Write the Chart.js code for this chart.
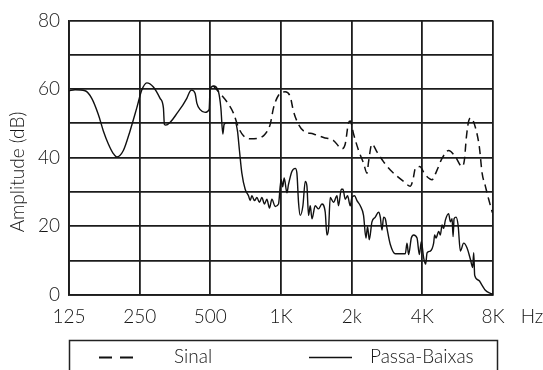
<!DOCTYPE html>
<html>
<head>
<meta charset="utf-8">
<script src="https://cdn.jsdelivr.net/npm/chart.js@4/dist/chart.umd.min.js"></script>
<style>
  html, body { margin: 0; padding: 0; background: #fff; }
  #wrap { width: 543px; height: 370px; }
</style>
</head>
<body>
<div id="wrap"><canvas id="c" width="543" height="370"></canvas></div>
<script>
// x values: octaves above 125 Hz (0 = 125 Hz, 6 = 8 kHz)
const xTickLabels = ['125', '250', '500', '1K', '2k', '4K', '8K'];
const yTickLabels = [0, 20, 40, 60, 80];
const xUnit = 'Hz';
const yTitle = 'Amplitude (dB)';
const seriesNames = ['Sinal', 'Passa-Baixas'];

const passaOct = [0,0.085,0.227,0.322,0.415,0.486,0.557,0.627,0.676,0.769,0.864,0.959,1.030,1.101,1.194,1.289,1.336,1.350,1.370,1.548,1.667,1.714,1.738,1.785,1.809,1.856,1.926,1.983,1.997,2.044,2.115,2.149,2.177,2.195,2.234,2.351,2.384,2.412,2.446,2.493,2.540,2.564,2.588,2.625,2.659,2.695,2.729,2.766,2.800,2.837,2.871,2.918,2.965,2.989,3.003,3.024,3.045,3.084,3.106,3.154,3.201,3.225,3.248,3.272,3.310,3.343,3.367,3.390,3.414,3.438,3.484,3.531,3.579,3.626,3.650,3.673,3.697,3.744,3.792,3.814,3.853,3.877,3.909,3.942,3.980,4.004,4.041,4.075,4.122,4.168,4.202,4.225,4.249,4.287,4.334,4.381,4.405,4.429,4.452,4.476,4.500,4.547,4.618,4.759,4.783,4.806,4.844,4.877,4.925,4.958,4.986,5.018,5.047,5.067,5.113,5.160,5.174,5.194,5.231,5.255,5.279,5.302,5.326,5.372,5.397,5.421,5.435,5.449,5.477,5.506,5.538,5.585,5.633,5.680,5.712,5.727,5.741,5.797,5.846,5.892,5.963,6.0];
const passaDb = [59.5,59.8,59.5,57.3,52.6,47.8,44,41.2,40.2,42.1,47.8,54.5,59.7,61.8,60.6,57.3,54.5,49.7,49.5,53.5,57.3,59.4,59.7,58.7,55.9,54,53.2,54,60,60.9,59.2,54.5,46.9,49.7,50.2,50.2,47.8,42.1,35.5,30.8,28.9,27.5,28.9,27.5,28.4,27,28.4,26.5,27.9,25.3,27.9,25.8,26.5,31.7,33.6,31.5,34.1,29.8,32.2,36,36.9,35.5,27,23.2,26,33.1,31.7,23.2,26,22.2,26,25.1,26.5,24.1,17.5,19.4,28.4,27,28.9,26,30.8,30.8,27.9,28.9,26,28.4,28.9,27.5,26,23.2,16.6,19.9,16.1,21.3,22.7,24.1,22.7,18.9,22.7,22.2,19.4,14.7,12,12,15.1,11.8,16.6,17.5,16.6,11.8,15.6,10.9,9.0,12.3,12.8,15.1,17.5,16.6,18.5,17.5,20.4,19.4,21.8,23.7,21.3,22.2,17,22.2,22.7,20.4,12.8,15.1,13.7,10.4,8.0,12.3,5.7,4.3,2.8,1.4,0.5,0.2];

const sinalOct = [2.044,2.139,2.234,2.327,2.398,2.469,2.564,2.681,2.776,2.847,2.894,2.965,3.059,3.130,3.177,3.248,3.319,3.460,3.602,3.744,3.862,3.909,3.956,3.980,4.027,4.098,4.168,4.217,4.239,4.287,4.358,4.452,4.547,4.642,4.735,4.830,4.868,4.901,4.962,5.042,5.137,5.208,5.279,5.372,5.467,5.562,5.595,5.623,5.656,5.690,5.751,5.807,5.846,5.892,5.939,5.991];
const sinalDb = [60.9,58.7,56.3,53,48.8,46.4,45.5,45.7,46.9,49.7,54.5,58.2,59.2,57.8,53.5,49.7,47.8,46.9,45.9,45,42.6,44,50.2,50.7,46.9,42.1,38.4,35.5,38.8,44,41.7,38.8,36.4,34.6,33.1,31.7,33.6,36.9,37.4,35,33.6,36.4,39.8,42.1,40.3,37.4,39.3,45.9,50.7,51.6,48.8,43.1,35.5,31.7,27.9,24];

const FONT = "Lato, 'Liberation Sans', sans-serif";
const FW = '300';
const FS = 19;
const TEXT = '#151515';
const GRID = '#1c1c1c';

const toPts = (xs, ys) => xs.map((x, i) => ({ x: x, y: ys[i] }));

const extras = {
  id: 'extras',
  afterDraw(chart) {
    const ctx = chart.ctx;
    const ca = chart.chartArea;
    ctx.save();
    ctx.fillStyle = TEXT;
    ctx.font = FW + ' ' + FS + 'px ' + FONT;
    ctx.textAlign = 'center';
    ctx.textBaseline = 'middle';
    ctx.fillText(xUnit, 532, 317);
    ctx.save();
    ctx.translate(18, 172);
    ctx.rotate(-Math.PI / 2);
    ctx.fillText(yTitle, 0, 0);
    ctx.restore();
    ctx.strokeStyle = '#222';
    ctx.lineWidth = 1.5;
    ctx.strokeRect(ca.left + 0.5, 340.5, 428, 60);
    const ds = chart.data.datasets;
    ctx.lineWidth = 2;
    ctx.strokeStyle = '#111';
    ctx.setLineDash([13, 8]);
    ctx.beginPath(); ctx.moveTo(99, 357.5); ctx.lineTo(133, 357.5); ctx.stroke();
    ctx.setLineDash([]);
    ctx.lineWidth = 1.3;
    ctx.beginPath(); ctx.moveTo(309, 357.5); ctx.lineTo(352, 357.5); ctx.stroke();
    ctx.textAlign = 'left';
    ctx.fillText(ds[0].label, 174, 357);
    ctx.fillText(ds[1].label, 370, 357);
    ctx.restore();
  }
};

new Chart(document.getElementById('c'), {
  type: 'line',
  data: {
    datasets: [
      {
        label: seriesNames[0],
        data: toPts(sinalOct, sinalDb),
        borderColor: '#111',
        borderWidth: 1.5,
        borderDash: [8, 5],
        pointRadius: 0,
        fill: false,
        cubicInterpolationMode: 'monotone'
      },
      {
        label: seriesNames[1],
        data: toPts(passaOct, passaDb),
        borderColor: '#111',
        borderWidth: 1.4,
        pointRadius: 0,
        fill: false,
        cubicInterpolationMode: 'monotone'
      }
    ]
  },
  options: {
    responsive: false,
    devicePixelRatio: 1,
    animation: false,
    layout: { padding: { top: 14, right: 50, left: 0, bottom: 0 } },
    plugins: { legend: { display: false }, tooltip: { enabled: false } },
    scales: {
      x: {
        type: 'linear',
        min: 0, max: 6,
        afterFit(s) { s.height = 75; },
        ticks: {
          stepSize: 1, autoSkip: false, maxRotation: 0, padding: 10,
          color: TEXT, font: { family: FONT, size: FS, weight: FW },
          callback: (v) => xTickLabels[v] !== undefined ? xTickLabels[v] : ''
        },
        grid: { color: GRID, lineWidth: 1.8, drawTicks: false },
        border: { display: true, color: GRID, width: 1.8 }
      },
      y: {
        min: 0, max: 80,
        afterFit(s) { s.width = 69; },
        ticks: {
          stepSize: 10, padding: 9,
          color: TEXT, font: { family: FONT, size: FS, weight: FW },
          callback: (v) => yTickLabels.includes(v) ? String(v) : ''
        },
        grid: { color: GRID, lineWidth: 1.8, drawTicks: false },
        border: { display: true, color: GRID, width: 1.8 }
      }
    }
  },
  plugins: [extras]
});
</script>
</body>
</html>
